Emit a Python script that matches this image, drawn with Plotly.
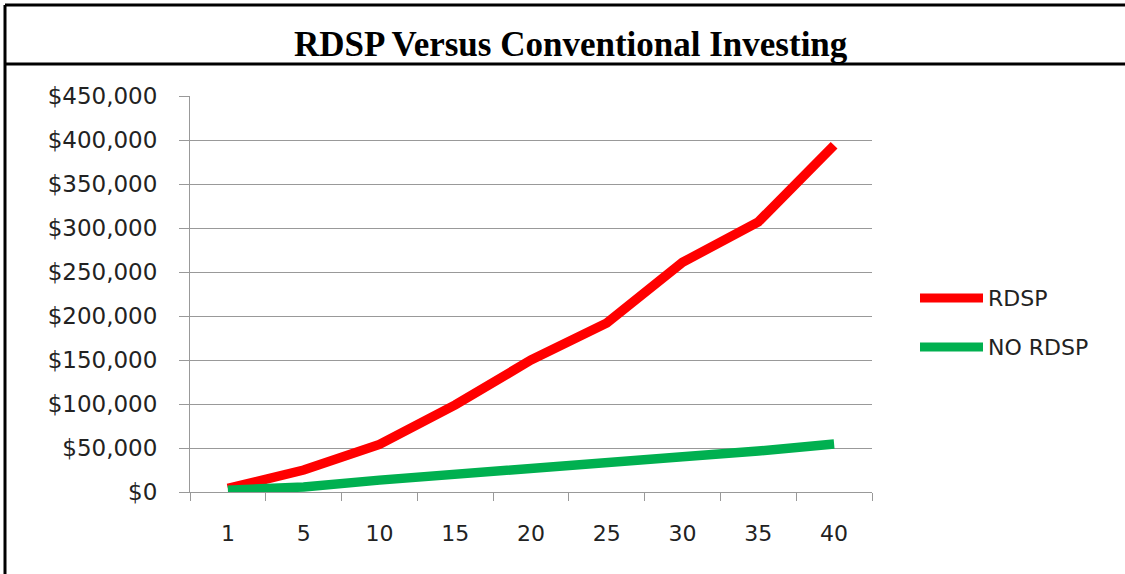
import plotly.graph_objects as go

years = ["1", "5", "10", "15", "20", "25", "30", "35", "40"]
rdsp = [4000, 25000, 54000, 99000, 150000, 192000, 261000, 307000, 394000]
no_rdsp = [2000, 5700, 13500, 19500, 28000, 33000, 40000, 46500, 54500]
series_names = ["RDSP", "NO RDSP"]
series_colors = ["#FF0000", "#00B050"]
y_ticks = [0, 50000, 100000, 150000, 200000, 250000, 300000, 350000, 400000, 450000]
y_tick_labels = ["$0", "$50,000", "$100,000", "$150,000", "$200,000", "$250,000",
                 "$300,000", "$350,000", "$400,000", "$450,000"]

W, H = 1125, 574
L, R, T, B = 190, 872, 96, 492

def px(x):
    return (x - L) / (R - L)

def py(y):
    return (B - y) / (B - T)

fig = go.Figure()
for name, vals, col in zip(series_names, [rdsp, no_rdsp], series_colors):
    fig.add_trace(go.Scatter(x=years, y=vals, mode="lines", name=name,
                             line=dict(color=col, width=9.5), showlegend=False))

font_fam = "DejaVu Sans, Open Sans, sans-serif"
shapes = []
for (x0, y0, x1, y1) in [(5, 5, 1125, 5), (5, 5, 5, 574), (5, 64, 1125, 64)]:
    shapes.append(dict(type="line", xref="paper", yref="paper",
                       x0=px(x0), y0=py(y0), x1=px(x1), y1=py(y1),
                       line=dict(color="black", width=3)))
annotations = [dict(text="<b>RDSP Versus Conventional Investing</b>", xref="paper", yref="paper",
                    x=px(571), y=py(45), showarrow=False, xanchor="center", yanchor="middle",
                    font=dict(family="Liberation Serif, Times New Roman, serif", size=35, color="black"))]
for i, (name, col) in enumerate(zip(series_names, series_colors)):
    yy = 298 + 49 * i
    shapes.append(dict(type="line", xref="paper", yref="paper",
                       x0=px(920), y0=py(yy), x1=px(983), y1=py(yy),
                       line=dict(color=col, width=9)))
    annotations.append(dict(text=name, xref="paper", yref="paper", x=px(986), y=py(yy),
                            showarrow=False, xanchor="left", yanchor="middle",
                            font=dict(family=font_fam, size=22, color="#222")))

fig.update_layout(
    width=W, height=H,
    margin=dict(l=L, r=W - R, t=T, b=H - B),
    paper_bgcolor="white", plot_bgcolor="white",
    shapes=shapes, annotations=annotations,
    showlegend=False,
    font=dict(family=font_fam, size=22, color="#222"),
)
fig.update_xaxes(type="category", range=[-0.5, len(years) - 0.5], tickson="boundaries",
                 ticks="outside", ticklen=8,
                 tickcolor="#999", showline=True, linecolor="#999", linewidth=1,
                 showgrid=False, ticklabelstandoff=22, tickfont=dict(size=22))
fig.update_yaxes(range=[0, 450000], tickvals=y_ticks, ticktext=y_tick_labels,
                 ticks="outside", ticklen=10, tickcolor="#999", showline=True,
                 linecolor="#999", linewidth=1, showgrid=True, gridcolor="#999",
                 gridwidth=1, zeroline=False, ticklabelstandoff=17, tickfont=dict(size=23))

fig.write_html("out.html", config={"displayModeBar": False},
               post_script="document.body.style.margin='0px';")
